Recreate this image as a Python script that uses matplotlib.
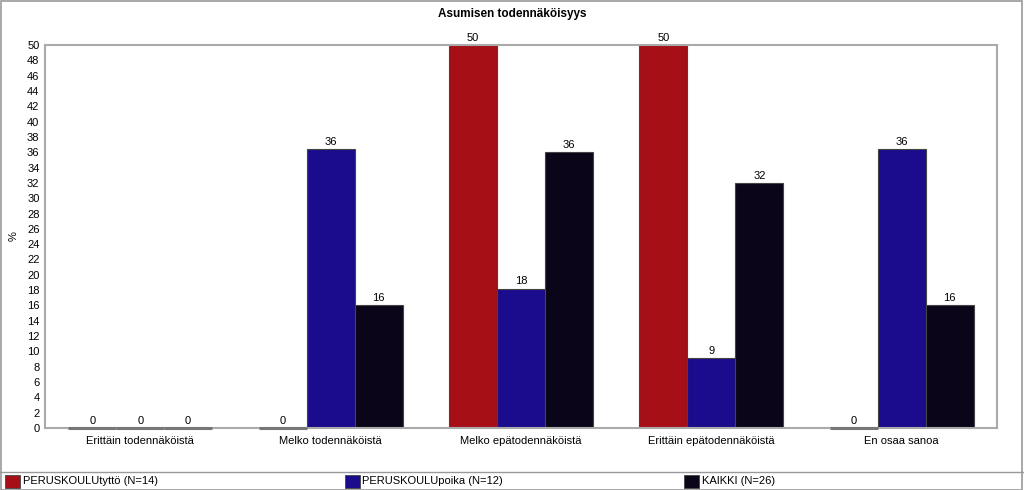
import numpy as np
import matplotlib
matplotlib.use("Agg")
import matplotlib.pyplot as plt
from matplotlib.patches import Rectangle
from matplotlib.lines import Line2D

categories = ["Erittäin todennäköistä", "Melko todennäköistä", "Melko epätodennäköistä",
              "Erittäin epätodennäköistä", "En osaa sanoa"]
series_names = ["PERUSKOULUtyttö (N=14)", "PERUSKOULUpoika (N=12)", "KAIKKI (N=26)"]
tytto = [0, 0, 50, 50, 0]
poika = [0, 36.4, 18.2, 9.1, 36.4]
kaikki = [0, 16, 36, 32, 16]
colors = ["#A50F15", "#1A0C8C", "#0A0518"]

plt.rcParams["font.family"] = ["Liberation Sans", "DejaVu Sans"]

fig = plt.figure(figsize=(10.24, 4.9), dpi=100)
ax = fig.add_axes([45 / 1024, 1 - 428 / 490, 952 / 1024, 383 / 490])

x = np.arange(len(categories))
w = 0.252
for i, vals in enumerate([tytto, poika, kaikki]):
    pos = x + (i - 1) * w
    ax.bar(pos, vals, w, color=colors[i], edgecolor="#444444", linewidth=0.8)
    for p, v in zip(pos, vals):
        if v == 0:
            # zero bars show as a grey stub on the baseline
            ax.plot([p - w / 2, p + w / 2], [0, 0], color="#777777", linewidth=2.2,
                    solid_capstyle="butt", zorder=5, clip_on=False)
        ax.text(p, v + 0.3, "%d" % round(v), ha="center", va="bottom", fontsize=8)

ax.set_xlim(-0.5, len(categories) - 0.5)
ax.set_ylim(0, 50)
ax.set_yticks(range(0, 51, 2))
ax.set_xticks(x)
ax.set_xticklabels(categories, fontsize=8)
ax.tick_params(axis="y", labelsize=8, length=0, pad=4)
ax.tick_params(axis="x", length=0, pad=6)
for s in ax.spines.values():
    s.set_color("#aaaaaa")
    s.set_linewidth(1.5)
ax.set_ylabel("%", fontsize=8, labelpad=6)

fig.text(0.5, 1 - 14 / 490, "Asumisen todennäköisyys", ha="center", va="center",
         fontsize=8.5, fontweight="bold")

# outer frame and legend row
fig.add_artist(Rectangle((0.0005, 0.001), 0.998, 0.997, transform=fig.transFigure,
                         fill=False, edgecolor="#999999", linewidth=1.2))
fig.add_artist(Line2D([0, 1], [1 - 472 / 490, 1 - 472 / 490], transform=fig.transFigure,
                      color="#999999", linewidth=1))
for i, name in enumerate(series_names):
    x0 = (5 + i * 339.5) / 1024
    fig.add_artist(Rectangle((x0, 1 - 488 / 490), 15 / 1024, 13 / 490, transform=fig.transFigure,
                             facecolor=colors[i], edgecolor="#444444", linewidth=0.6))
    fig.text(x0 + 18 / 1024, 1 - 481 / 490, name, ha="left", va="center", fontsize=8)

fig.savefig("out.png", dpi=100)
